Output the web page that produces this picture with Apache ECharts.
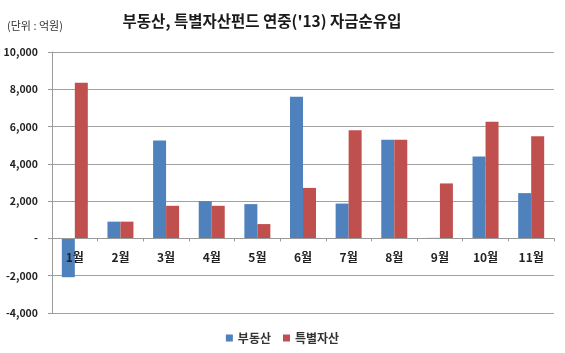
<!DOCTYPE html>
<html>
<head>
<meta charset="utf-8">
<script src="https://cdn.jsdelivr.net/npm/echarts@6/dist/echarts.min.js"></script>
<style>
  html, body { margin: 0; padding: 0; background: #fff; }
  #main { width: 565px; height: 353px; }
</style>
</head>
<body>
<div id="main"></div>
<script>
// 월별 카테고리
const months = ['1월', '2월', '3월', '4월', '5월', '6월', '7월', '8월', '9월', '10월', '11월'];
// 부동산 펀드 자금순유입 (억원)
const realEstate = [-2080, 900, 5250, 2000, 1840, 7600, 1870, 5290, 30, 4400, 2430];
// 특별자산 펀드 자금순유입 (억원)
const specialAsset = [8350, 900, 1750, 1750, 770, 2710, 5800, 5290, 2950, 6260, 5480];
// y축 범위
const yMin = -4000;
const yMax = 10000;
const yStep = 2000;

const font = '"Noto Sans CJK KR", "Noto Sans", sans-serif';

const gridTop = 52;
const gridBottom = 40;
const chartHeight = 353;
// x축을 0 위치로 올리기 위한 오프셋
const plotHeight = chartHeight - gridTop - gridBottom;
const zeroOffset = -plotHeight * (0 - yMin) / (yMax - yMin);

const myChart = echarts.init(document.getElementById('main'));

const option = {
    animation: false,
    textStyle: { fontFamily: font },
    title: [
        {
            text: "부동산, 특별자산펀드 연중('13) 자금순유입",
            left: 257,
            textAlign: 'center',
            top: 8,
            textStyle: { fontSize: 15.5, fontWeight: 'bold', color: '#1a1a1a', fontFamily: font }
        },
        {
            text: '(단위 : 억원)',
            left: 2,
            top: 15,
            textStyle: { fontSize: 11, fontWeight: 'normal', color: '#333', fontFamily: font }
        }
    ],
    legend: {
        data: ['부동산', '특별자산'],
        bottom: 4,
        left: 'center',
        icon: 'rect',
        itemWidth: 7,
        itemHeight: 7,
        itemGap: 12,
        textStyle: { fontSize: 12, fontWeight: 'bold', color: '#333', fontFamily: font }
    },
    grid: {
        left: 52,
        right: 11,
        top: gridTop,
        bottom: gridBottom
    },
    xAxis: {
        type: 'category',
        data: months,
        offset: zeroOffset,
        axisLine: { onZero: false, lineStyle: { color: '#999', width: 1 } },
        axisTick: { show: true, length: 3, lineStyle: { color: '#999' } },
        axisLabel: {
            margin: 13,
            fontSize: 12,
            fontWeight: 'bold',
            color: '#222',
            fontFamily: font
        },
        z: 10
    },
    yAxis: {
        type: 'value',
        min: yMin,
        max: yMax,
        interval: yStep,
        axisLine: { show: true, lineStyle: { color: '#999', width: 1 } },
        axisTick: { show: true, length: 4, lineStyle: { color: '#999' } },
        splitLine: { show: true, lineStyle: { color: '#a0a0a0', width: 1 } },
        axisLabel: {
            margin: 14,
            fontSize: 10.5,
            fontWeight: 'bold',
            color: '#222',
            fontFamily: font,
            formatter: v => v === 0 ? '-' : v.toLocaleString('en-US')
        }
    },
    series: [
        {
            name: '부동산',
            type: 'bar',
            data: realEstate,
            barWidth: 13,
            barGap: '0%',
            itemStyle: { color: '#4F81BD' }
        },
        {
            name: '특별자산',
            type: 'bar',
            data: specialAsset,
            barWidth: 13,
            barGap: '0%',
            itemStyle: { color: '#C0504D' }
        }
    ]
};

myChart.setOption(option);
</script>
</body>
</html>
